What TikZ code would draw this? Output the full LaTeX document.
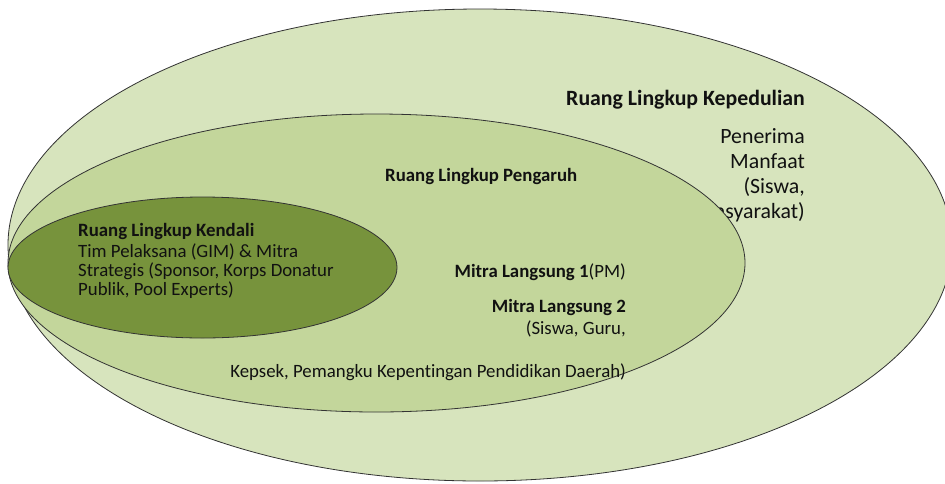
\documentclass[tikz,border=0pt]{standalone}
\usepackage{fontspec}
\setmainfont{Carlito}[Ligatures=NoCommon]
\definecolor{outerC}{HTML}{D7E4BD}
\definecolor{midC}{HTML}{C3D69B}
\definecolor{innerC}{HTML}{77933C}
\definecolor{lineC}{HTML}{333333}
\definecolor{txtC}{HTML}{111111}
\begin{document}
\begin{tikzpicture}[x=1pt,y=-1pt,
  ring/.style={draw=lineC, line width=0.8pt},
  big/.style={inner sep=0pt, text=txtC, font=\fontsize{21.8}{25}\selectfont},
  bigb/.style={big, font=\bfseries\fontsize{21.8}{25}\selectfont},
  txt/.style={inner sep=0pt, text=txtC, font=\fontsize{18.8}{20}\selectfont},
  txtb/.style={txt, font=\bfseries\fontsize{18.8}{20}\selectfont}]
\useasboundingbox (0,0) rectangle (945,483);
\fill[white] (0,0) rectangle (945,483);
% outer
\draw[ring, fill=outerC] (480,245) ellipse [x radius=472, y radius=236];
\node[bigb, anchor=base east] (kep) at (805,105) {Ruang Lingkup Kepedulian};
\node[big, anchor=base east] (p1) at (805,143) {Penerima};
\node[big, anchor=base east] (p2) at (805,168) {Manfaat};
\node[big, anchor=base east] (p3) at (805,193) {(Siswa,};
\node[big, anchor=base east] (p4) at (805,218) {Masyarakat)};
% middle
\draw[ring, fill=midC] (376.5,263) ellipse [x radius=368.5, y radius=149];
\node[txtb, anchor=base west] (peng) at (385,181) {Ruang Lingkup Pengaruh};
\node[txt, anchor=base east] (m1) at (626,277) {\textbf{Mitra Langsung 1}(PM)};
\node[txtb, anchor=base east] (m2) at (626,312) {Mitra Langsung 2};
\node[txt, anchor=base east] (m3) at (626,334) {(Siswa, Guru,};
\node[txt, anchor=base east] (m4) at (626,377) {Kepsek, Pemangku Kepentingan Pendidikan Daerah)};
% inner
\draw[ring, fill=innerC] (202.5,267.5) ellipse [x radius=194.5, y radius=70.5];
\node[txtb, anchor=base west] (ken) at (78,236) {Ruang Lingkup Kendali};
\node[txt, anchor=base west] (k1) at (78,257) {Tim Pelaksana (GIM) \& Mitra};
\node[txt, anchor=base west] (k2) at (78,276) {Strategis (Sponsor, Korps Donatur};
\node[txt, anchor=base west] (k3) at (78,295) {Publik, Pool Experts)};
\end{tikzpicture}
\end{document}
